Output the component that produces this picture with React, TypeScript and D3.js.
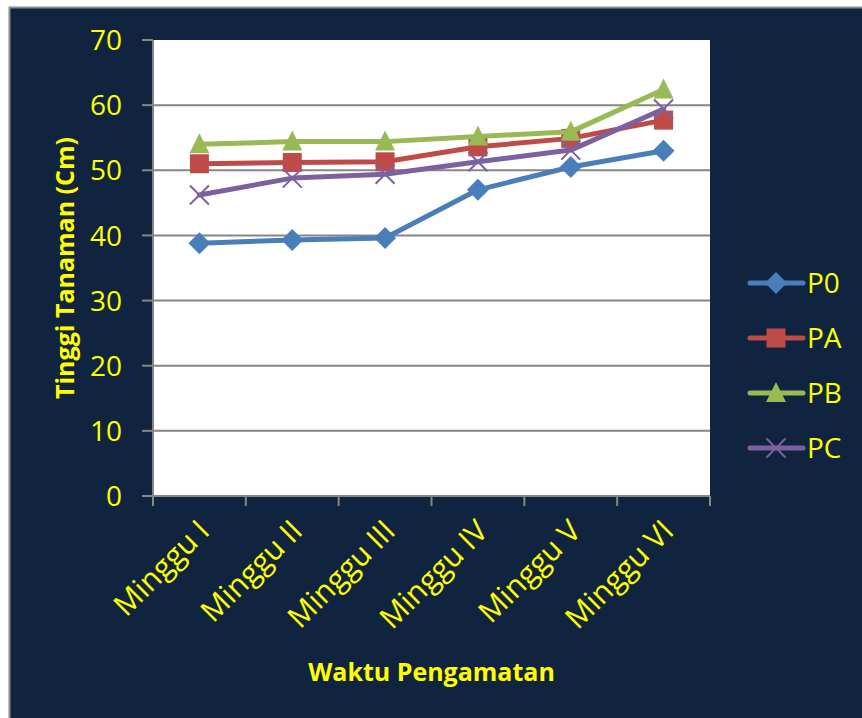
import React from "react";
import * as d3 from "d3";

const categories = ["Minggu I", "Minggu II", "Minggu III", "Minggu IV", "Minggu V", "Minggu VI"];
const seriesNames = ["P0", "PA", "PB", "PC"];
const p0 = [38.8, 39.3, 39.6, 47.0, 50.5, 53.0];
const pa = [51.0, 51.2, 51.3, 53.6, 54.9, 57.7];
const pb = [54.0, 54.4, 54.4, 55.2, 55.9, 62.4];
const pc = [46.2, 48.8, 49.4, 51.3, 53.1, 59.4];
const yTicks = [0, 10, 20, 30, 40, 50, 60, 70];
const colors = ["#4A7EBB", "#BE4B48", "#98B954", "#7D60A0"];
const markers = ["diamond", "square", "triangle", "x"];

const W = 862;
const H = 718;
const plot = { left: 153, right: 710, top: 40, bottom: 496 };
const BG = "#11243F";
const YEL = "#FFFF00";
const GRID = "#868686";
const FONT = "'Open Sans', sans-serif";

function Marker({ type, x, y, color }: { type: string; x: number; y: number; color: string }) {
  if (type === "diamond") {
    const r = 11;
    return <path d={`M${x},${y - r}L${x + r},${y}L${x},${y + r}L${x - r},${y}Z`} fill={color} />;
  }
  if (type === "square") {
    const s = 19;
    return <rect x={x - s / 2} y={y - s / 2} width={s} height={s} fill={color} />;
  }
  if (type === "triangle") {
    const s = 20;
    return <path d={`M${x},${y - s * 0.55}L${x + s / 2},${y + s * 0.45}L${x - s / 2},${y + s * 0.45}Z`} fill={color} />;
  }
  const r = 9.5;
  return (
    <path
      d={`M${x - r},${y - r}L${x + r},${y + r}M${x - r},${y + r}L${x + r},${y - r}`}
      stroke={color}
      strokeWidth={2}
      fill="none"
    />
  );
}

export default function App() {
  const x = d3.scaleBand().domain(categories).range([plot.left, plot.right]);
  const y = d3.scaleLinear().domain([0, 70]).range([plot.bottom, plot.top]);
  const data = [p0, pa, pb, pc];
  const line = d3
    .line<number>()
    .x((_, i) => (x(categories[i]) as number) + x.bandwidth() / 2)
    .y((d) => y(d));
  const tickXs = categories.map((c) => x(c) as number).concat([plot.right]);

  const legendY = [283, 338, 393, 448];

  return (
    <svg
      width={W}
      height={H}
      style={{ position: "absolute", left: 0, top: 0, background: "#fff" }}
      fontFamily={FONT}
    >
      <rect x={9.5} y={7.5} width={W} height={H} fill={BG} stroke="#8a8a8a" strokeWidth={2} />
      <rect x={plot.left} y={plot.top} width={plot.right - plot.left} height={plot.bottom - plot.top} fill="#fff" />
      {yTicks.map((t) => (
        <g key={t}>
          {t > 0 && t < 70 && (
            <line x1={plot.left} x2={plot.right} y1={y(t)} y2={y(t)} stroke={GRID} strokeWidth={2} />
          )}
          <line x1={plot.left - 11} x2={plot.left} y1={y(t)} y2={y(t)} stroke={GRID} strokeWidth={2} />
          <text x={122} y={y(t)} dy="0.36em" textAnchor="end" fill={YEL} fontSize={28}>
            {t}
          </text>
        </g>
      ))}
      <line x1={plot.left} x2={plot.left} y1={plot.top} y2={plot.bottom} stroke={GRID} strokeWidth={2} />
      <line x1={plot.left} x2={plot.right} y1={plot.bottom} y2={plot.bottom} stroke={GRID} strokeWidth={2} />
      {tickXs.map((tx, i) => (
        <line key={i} x1={tx} x2={tx} y1={plot.bottom} y2={plot.bottom + 10} stroke={GRID} strokeWidth={2} />
      ))}
      {categories.map((c) => {
        const cx = (x(c) as number) + x.bandwidth() / 2;
        return (
          <text
            key={c}
            transform={`translate(${cx - 3},${plot.bottom + 22}) rotate(-45)`}
            textAnchor="end"
            dy="0.7em"
            fill={YEL}
            fontSize={30}
          >
            {c}
          </text>
        );
      })}
      {data.map((s, si) => (
        <g key={si}>
          <path d={line(s) || ""} fill="none" stroke={colors[si]} strokeWidth={5} strokeLinejoin="round" strokeLinecap="round" />
          {s.map((v, i) => (
            <Marker
              key={i}
              type={markers[si]}
              x={(x(categories[i]) as number) + x.bandwidth() / 2}
              y={y(v)}
              color={colors[si]}
            />
          ))}
        </g>
      ))}
      {seriesNames.map((n, i) => (
        <g key={n}>
          <line x1={750} x2={803} y1={legendY[i]} y2={legendY[i]} stroke={colors[i]} strokeWidth={5} strokeLinecap="round" />
          <Marker type={markers[i]} x={776} y={legendY[i]} color={colors[i]} />
          <text x={807} y={legendY[i]} dy="0.36em" fill={YEL} fontSize={28}>
            {n}
          </text>
        </g>
      ))}
      <text
        transform={`translate(74,${(plot.top + plot.bottom) / 2}) rotate(-90)`}
        textAnchor="middle"
        fill={YEL}
        fontSize={25}
        fontWeight="bold"
      >
        Tinggi Tanaman (Cm)
      </text>
      <text x={(plot.left + plot.right) / 2} y={681} textAnchor="middle" fill={YEL} fontSize={25} fontWeight="bold">
        Waktu Pengamatan
      </text>
    </svg>
  );
}
